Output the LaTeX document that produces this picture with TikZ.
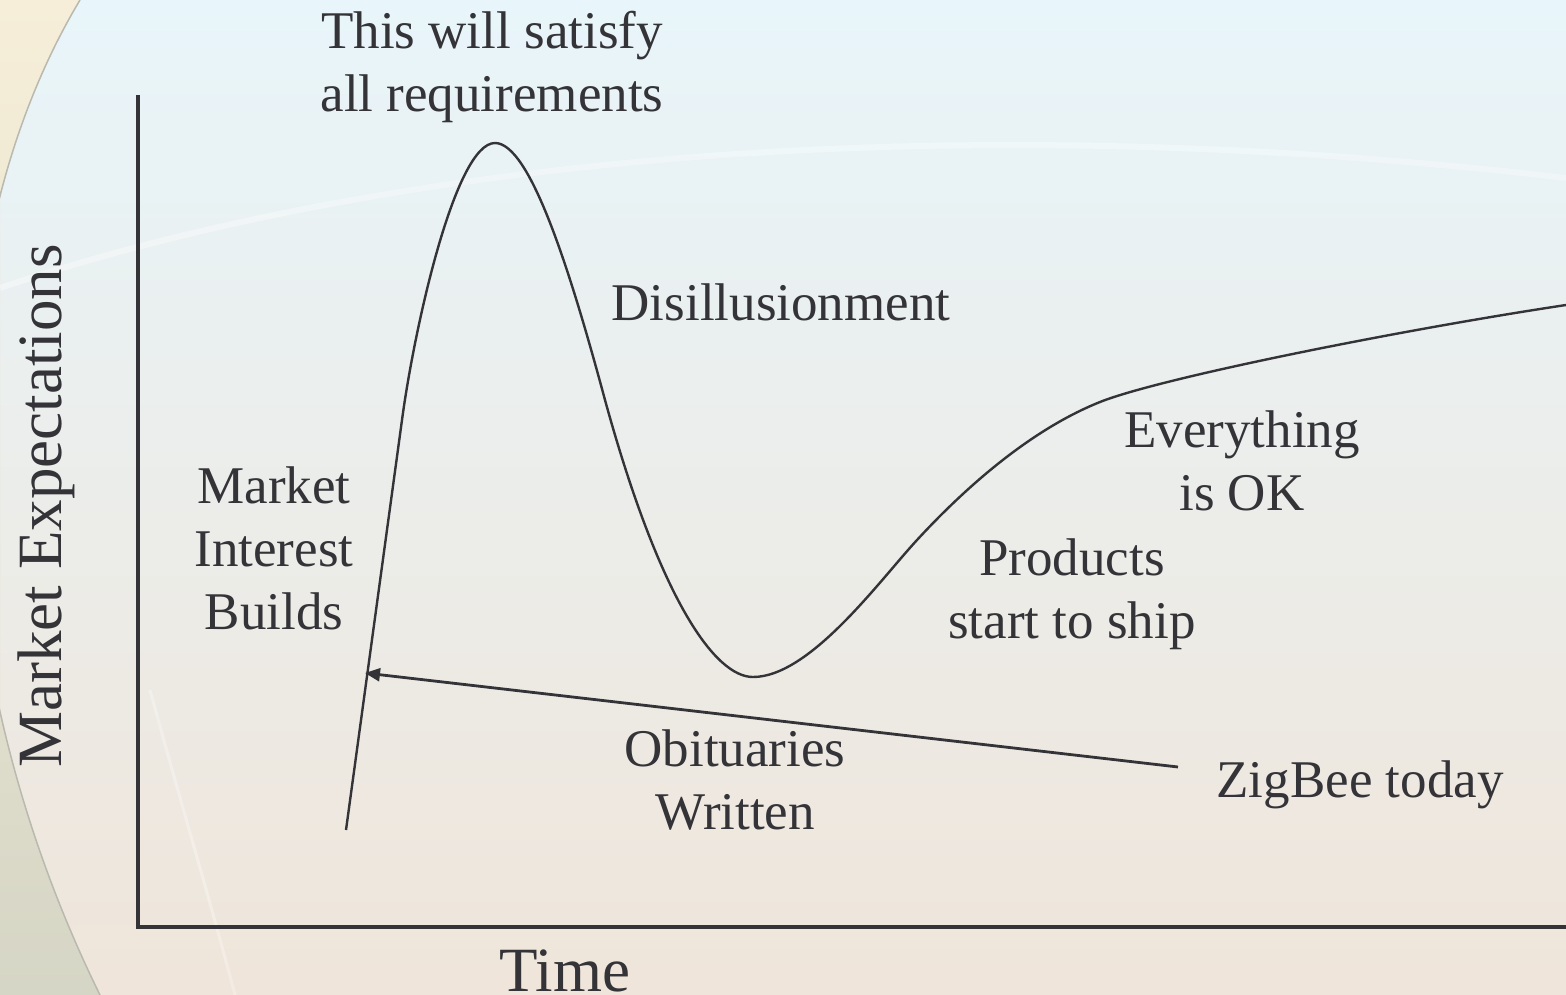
\documentclass[tikz,border=0pt]{standalone}
\usepackage{fontspec}
\setmainfont{Liberation Serif}
\usetikzlibrary{arrows.meta}
\definecolor{ink}{RGB}{51,51,56}
\definecolor{bgtop}{RGB}{232,245,250}
\definecolor{bgmid}{RGB}{241,246,241}
\definecolor{bgbot}{RGB}{239,229,218}
\definecolor{edgetop}{RGB}{246,238,216}
\definecolor{edgemid}{RGB}{228,241,244}
\definecolor{edgebot}{RGB}{214,214,198}
\definecolor{arcline}{RGB}{185,185,175}
\tikzset{
  lbl/.style={text=ink, inner sep=0pt, align=center, font=\fontsize{53}{63}\selectfont},
  axlbl/.style={text=ink, inner sep=0pt, font=\fontsize{63}{70}\selectfont},
  axisline/.style={draw=ink, line width=3.5pt},
  hype/.style={draw=ink, line width=2.4pt},
  pointer/.style={draw=ink, line width=2.8pt, -{Triangle[length=15pt,width=13pt]}}
}
\begin{document}
\begin{tikzpicture}[x=1pt,y=-1pt]
\useasboundingbox (0,0) rectangle (1566,995);
% background
\shade[top color=bgtop, middle color=bgmid, bottom color=bgbot] (0,0) rectangle (1566,995);
\shade[top color=edgetop, middle color=edgemid, bottom color=edgebot]
  (0,0) -- (80,0) .. controls (-70,250) and (-70,650) .. (100,995) -- (0,995) -- cycle;
\draw[arcline, line width=1.5pt] (80,0) .. controls (-70,250) and (-70,650) .. (100,995);
\draw[white, opacity=0.35, line width=6pt] (0,288) .. controls (350,170) and (900,100) .. (1566,178);
\draw[white, opacity=0.3, line width=3pt] (150,690) .. controls (180,800) and (210,900) .. (235,995);
% axes
\coordinate (ytop) at (138,95);
\coordinate (origin) at (138,927);
\coordinate (xend) at (1566,927);
\draw[axisline] (ytop) -- (origin) -- (xend);
% hype curve
\draw[hype] (346,830) -- (402,420)
  .. controls (414,330) and (455,143) .. (495,143)
  .. controls (530,143) and (570,270) .. (605,400)
  .. controls (660,600) and (715,677) .. (753,677)
  .. controls (810,677) and (880,580) .. (917,540)
  .. controls (965,488) and (1030,430) .. (1100,402)
  .. controls (1160,378) and (1400,330) .. (1566,305);
% pointer
\coordinate (tip) at (365,673);
\coordinate (zstart) at (1178,767);
\draw[pointer] (zstart) -- (tip);
% labels (base = baseline of last line)
\node[lbl, anchor=base] (peak) at (492,112) {This will satisfy\\all requirements};
\node[lbl, anchor=base] (dis) at (781,320) {Disillusionment};
\node[lbl, anchor=base] (mib) at (274,629) {Market\\Interest\\Builds};
\node[lbl, anchor=base] (ok) at (1242,510) {Everything\\is OK};
\node[lbl, anchor=base] (prod) at (1072,638) {Products\\start to ship};
\node[lbl, anchor=base] (obit) at (735,829) {Obituaries\\Written};
\node[lbl, anchor=base] (zig) at (1360,797) {ZigBee today};
\node[axlbl, anchor=base] (time) at (565,991) {Time};
\node[axlbl, anchor=base, rotate=90] (mexp) at (61,506) {Market Expectations};
\end{tikzpicture}
\end{document}
